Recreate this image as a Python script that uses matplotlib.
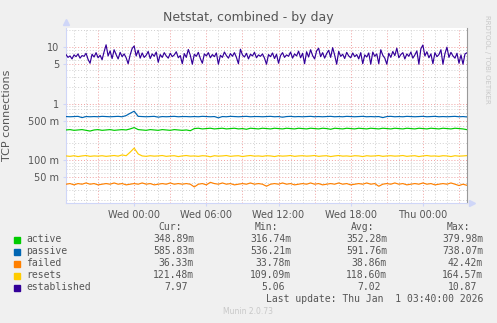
"""
Munin netstat graph, combined - by day
"""

import numpy as np
import matplotlib
matplotlib.use("Agg")
import matplotlib.pyplot as plt
from matplotlib.patches import Rectangle

# ===============================
# DATA
# ===============================

# hours relative to Wed 00:00 (Tue 18:20 .. Thu 03:40)
T_START = -5.667
T_END = 27.667

established = [
    7.4, 6.6, 7.0, 6.2, 7.3, 6.8, 7.6, 6.4, 7.1, 6.9,
    7.8, 6.1, 5.2, 7.5, 6.7, 8.0, 6.5, 7.2, 6.0, 8.3,
    11.0, 7.0, 8.6, 6.3, 9.0, 7.4, 6.2, 8.1, 6.8, 7.6,
    6.5, 5.1, 7.3, 9.5, 10.5, 7.0, 8.8, 6.4, 7.9, 6.6,
    7.2, 8.4, 6.3, 7.6, 6.9, 8.2, 5.4, 7.4, 6.6, 8.0,
    7.0, 6.4, 7.8, 6.8, 7.3, 8.3, 6.5, 7.1, 5.1, 7.7,
    6.6, 9.1, 7.2, 5.0, 7.5, 6.9, 8.1, 6.3, 5.2, 7.6,
    7.0, 8.0, 6.5, 7.4, 6.8, 7.9, 5.0, 7.2, 6.6, 8.2,
    7.1, 6.4, 7.7, 6.9, 8.0, 6.6, 5.1, 9.2, 7.3, 6.7,
    7.8, 6.2, 7.5, 7.0, 8.1, 6.5, 7.3, 6.9, 7.6, 6.4,
    5.0, 7.4, 6.8, 7.9, 6.3, 7.5, 5.2, 7.1, 8.0, 6.6,
    7.3, 6.9, 8.2, 6.4, 7.6, 7.0, 8.5, 6.5, 7.8, 5.1,
    8.3, 6.7, 9.0, 7.1, 6.2, 8.6, 9.6, 6.8, 8.0, 6.4,
    7.7, 8.8, 6.6, 9.8, 7.2, 5.0, 8.4, 6.9, 7.5, 6.3,
    8.1, 7.0, 6.5, 7.9, 6.8, 7.4, 6.2, 8.0, 5.1, 7.3,
    6.7, 7.9, 5.0, 8.2, 6.9, 7.6, 5.1, 9.0, 7.2, 6.4,
    5.0, 7.8, 6.6, 8.4, 7.1, 9.6, 6.5, 7.4, 8.0, 6.2,
    7.6, 6.9, 8.2, 6.4, 7.3, 8.6, 5.0, 9.4, 10.9, 7.0,
    8.3, 6.5, 7.6, 5.1, 8.0, 6.8, 7.4, 9.0, 5.0, 7.7,
    10.0, 6.6, 8.1, 7.0, 6.4, 7.8, 5.2, 7.3, 5.0, 7.6,
    7.97,
]

passive = [
    0.595, 0.59, 0.595, 0.60, 0.57, 0.595, 0.59, 0.595, 0.59, 0.60,
    0.595, 0.59, 0.595, 0.60, 0.59, 0.62, 0.68, 0.74, 0.60, 0.595,
    0.59, 0.595, 0.60, 0.58, 0.595, 0.59, 0.595, 0.60, 0.59, 0.595,
    0.595, 0.59, 0.595, 0.59, 0.60, 0.595, 0.59, 0.595, 0.565, 0.595,
    0.59, 0.60, 0.595, 0.59, 0.595, 0.60, 0.59, 0.595, 0.595, 0.59,
    0.595, 0.60, 0.59, 0.595, 0.58, 0.595, 0.60, 0.59, 0.595, 0.59,
    0.595, 0.60, 0.59, 0.595, 0.59, 0.595, 0.60, 0.59, 0.595, 0.59,
    0.60, 0.595, 0.59, 0.595, 0.60, 0.59, 0.595, 0.59, 0.595, 0.57,
    0.595, 0.60, 0.59, 0.595, 0.59, 0.60, 0.595, 0.59, 0.595, 0.60,
    0.59, 0.595, 0.60, 0.59, 0.595, 0.59, 0.595, 0.60, 0.59, 0.595,
    0.586,
]

active = [
    0.345, 0.35, 0.34, 0.345, 0.35, 0.34, 0.33, 0.345, 0.35, 0.34,
    0.345, 0.35, 0.34, 0.345, 0.35, 0.345, 0.36, 0.38, 0.35, 0.345,
    0.34, 0.35, 0.345, 0.34, 0.35, 0.345, 0.34, 0.35, 0.345, 0.34,
    0.345, 0.335, 0.365, 0.37, 0.36, 0.365, 0.37, 0.36, 0.365, 0.37,
    0.36, 0.365, 0.37, 0.36, 0.365, 0.355, 0.37, 0.365, 0.36, 0.37,
    0.365, 0.36, 0.37, 0.365, 0.36, 0.37, 0.365, 0.36, 0.37, 0.365,
    0.36, 0.37, 0.365, 0.36, 0.37, 0.365, 0.355, 0.37, 0.365, 0.36,
    0.37, 0.365, 0.36, 0.37, 0.365, 0.36, 0.37, 0.365, 0.36, 0.37,
    0.365, 0.36, 0.37, 0.365, 0.36, 0.37, 0.365, 0.36, 0.37, 0.365,
    0.36, 0.37, 0.365, 0.36, 0.37, 0.365, 0.36, 0.37, 0.365, 0.36,
    0.349,
]

resets = [
    0.12, 0.118, 0.121, 0.117, 0.12, 0.122, 0.118, 0.12, 0.119, 0.121,
    0.118, 0.12, 0.122, 0.119, 0.125, 0.121, 0.14, 0.165, 0.13, 0.12,
    0.118, 0.121, 0.119, 0.12, 0.122, 0.118, 0.12, 0.121, 0.117, 0.12,
    0.122, 0.119, 0.12, 0.118, 0.121, 0.12, 0.116, 0.121, 0.119, 0.12,
    0.122, 0.118, 0.12, 0.121, 0.117, 0.12, 0.122, 0.119, 0.12, 0.118,
    0.121, 0.12, 0.117, 0.121, 0.119, 0.12, 0.122, 0.118, 0.12, 0.121,
    0.119, 0.12, 0.122, 0.118, 0.12, 0.121, 0.117, 0.12, 0.122, 0.119,
    0.12, 0.118, 0.121, 0.12, 0.117, 0.121, 0.119, 0.12, 0.122, 0.118,
    0.12, 0.121, 0.119, 0.12, 0.122, 0.118, 0.12, 0.121, 0.117, 0.12,
    0.122, 0.119, 0.12, 0.118, 0.121, 0.12, 0.117, 0.121, 0.119, 0.12,
    0.1215,
]

failed = [
    0.038, 0.039, 0.037, 0.039, 0.038, 0.040, 0.038, 0.039, 0.037, 0.038,
    0.039, 0.038, 0.040, 0.038, 0.039, 0.037, 0.038, 0.039, 0.038, 0.040,
    0.038, 0.039, 0.037, 0.038, 0.039, 0.038, 0.040, 0.038, 0.039, 0.038,
    0.039, 0.038, 0.034, 0.038, 0.039, 0.037, 0.041, 0.039, 0.038, 0.040,
    0.038, 0.039, 0.037, 0.038, 0.039, 0.038, 0.040, 0.038, 0.039, 0.038,
    0.035, 0.038, 0.039, 0.038, 0.040, 0.038, 0.039, 0.037, 0.038, 0.039,
    0.038, 0.040, 0.038, 0.039, 0.037, 0.038, 0.039, 0.038, 0.040, 0.038,
    0.039, 0.037, 0.038, 0.039, 0.038, 0.040, 0.038, 0.039, 0.035, 0.038,
    0.039, 0.038, 0.040, 0.038, 0.039, 0.037, 0.038, 0.039, 0.038, 0.040,
    0.038, 0.039, 0.037, 0.038, 0.039, 0.038, 0.040, 0.038, 0.036, 0.038,
    0.0363,
]

names = ["active", "passive", "failed", "resets", "established"]
colors = ["#00CC00", "#0066B3", "#FF8000", "#FFCC00", "#330099"]
cur = ["348.89m", "585.83m", "36.33m", "121.48m", "7.97"]
mins = ["316.74m", "536.21m", "33.78m", "109.09m", "5.06"]
avgs = ["352.28m", "591.76m", "38.86m", "118.60m", "7.02"]
maxs = ["379.98m", "738.07m", "42.42m", "164.57m", "10.87"]

x_ticks = [0, 6, 12, 18, 24]
x_labels = ["Wed 00:00", "Wed 06:00", "Wed 12:00", "Wed 18:00", "Thu 00:00"]
y_ticks = [0.05, 0.1, 0.5, 1, 5, 10]
y_labels = ["50 m", "100 m", "500 m", "1", "5", "10"]

# ===============================
# PLOT
# ===============================

W, H = 497, 323
TXT = "#555555"

fig = plt.figure(figsize=(W / 100, H / 100), dpi=100, facecolor="#F0F0F0")
ax = fig.add_axes([66 / W, 1 - 203 / H, (467 - 66) / W, (203 - 28) / H])
ax.set_facecolor("white")
ax.set_yscale("log")
ax.set_xlim(T_START, T_END)
ax.set_ylim(0.0177, 21.8)

# grid
dot = (0, (1, 2))
for h in range(-5, 28):
    c = "#F0A0A0" if h % 3 == 0 else "#D0D0D0"
    ax.axvline(h, color=c, lw=0.7, ls=dot, zorder=0)
for dec in [0.01, 0.1, 1, 10]:
    for m in range(1, 10):
        v = dec * m
        if v < 0.0177 or v > 21.8:
            continue
        c = "#F0A0A0" if m in (1, 5) else "#D0D0D0"
        ax.axhline(v, color=c, lw=0.7, ls=dot, zorder=0)

series = [active, passive, failed, resets, established]
for vals, c in zip(series, colors):
    t = np.linspace(T_START, T_END, len(vals))
    ax.plot(t, vals, color=c, lw=0.85, zorder=3)

ax.set_xticks(x_ticks)
ax.set_xticklabels(x_labels)
ax.set_yticks(y_ticks)
ax.set_yticklabels(y_labels)
ax.minorticks_off()
ax.tick_params(axis="both", length=2, color="#CFD6F8", labelsize=7,
               labelcolor=TXT, pad=3)

ax.spines["top"].set_visible(False)
ax.spines["left"].set_color("#CFD6F8")
ax.spines["bottom"].set_color("#CFD6F8")
ax.spines["right"].set_color("#999999")
ax.spines["right"].set_linewidth(0.8)

# axis arrows
ax.plot([0], [1 + 6 / 175], marker="^", ms=4, color="#CFD6F8",
        transform=ax.transAxes, clip_on=False)
ax.plot([1 + 5 / 401], [0], marker=">", ms=4, color="#CFD6F8",
        transform=ax.transAxes, clip_on=False)

ax.set_ylabel("TCP connections", fontsize=8, color=TXT, labelpad=6)
ax.yaxis.set_label_coords(-54 / 401, 0.5)

fig.text(248 / W, 1 - 18 / H, "Netstat, combined - by day", ha="center",
         va="center", fontsize=9, color=TXT)
fig.text(487 / W, 1 - 15 / H, "RRDTOOL / TOBI OETIKER", rotation=270,
         ha="center", va="top", fontsize=5, color="#C8C8C8")

# legend table
mono = "DejaVu Sans Mono"
rows_y = [239.5, 251.5, 263.5, 275.5, 287.5]
for hx, lab in zip([158, 255, 351, 447], ["Cur:", "Min:", "Avg:", "Max:"]):
    fig.text(hx / W, 1 - 227 / H, lab, family=mono, fontsize=7, color=TXT,
             ha="left", va="center")

col_right = [194, 291, 387, 483]
for i, name in enumerate(names):
    y = rows_y[i]
    fig.add_artist(Rectangle((14 / W, 1 - (y + 3) / H), 6 / W, 6 / H,
                             transform=fig.transFigure, color=colors[i]))
    fig.text(26.5 / W, 1 - y / H, name, family=mono, fontsize=7, color=TXT,
             ha="left", va="center")
    for xr, col in zip(col_right, [cur, mins, avgs, maxs]):
        s = col[i]
        xx = xr if s.endswith("m") else xr - 6
        fig.text(xx / W, 1 - y / H, s, family=mono, fontsize=7, color=TXT,
                 ha="right", va="center")

fig.text(483 / W, 1 - 299.5 / H, "Last update: Thu Jan  1 03:40:00 2026",
         family=mono, fontsize=7, color=TXT, ha="right", va="center")
fig.text(248 / W, 1 - 312 / H, "Munin 2.0.73", fontsize=5.5, color="#C8C8C8",
         ha="center", va="center")

fig.savefig("out.png", dpi=100, facecolor=fig.get_facecolor())
